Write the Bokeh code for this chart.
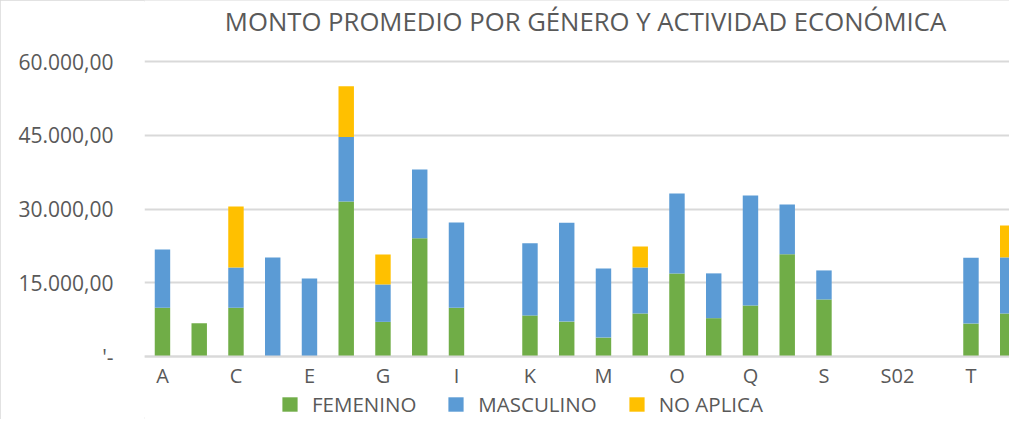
from bokeh.plotting import figure
from bokeh.models import (ColumnDataSource, Range1d, FixedTicker, Legend, LegendItem, Label)
from bokeh.embed import file_html
from bokeh.resources import INLINE

categories = ["A", "B", "C", "D", "E", "F", "G", "H", "I", "J", "K", "L", "M", "N",
              "O", "P", "Q", "R", "S", "S01", "S02", "S03", "T", "U"]
femenino = [9950, 6800, 9950, 0, 0, 31550, 7100, 24100, 9950, 0, 8400, 7150, 3900, 8800,
            16900, 7850, 10400, 20850, 11650, 0, 0, 0, 6750, 8800]
masculino = [11850, 0, 8200, 20200, 15900, 13100, 7600, 13950, 17350, 0, 14650, 20100, 14050, 9350,
             16300, 9100, 22350, 10100, 5900, 0, 0, 0, 13400, 11400]
no_aplica = [0, 0, 12400, 0, 0, 10300, 6100, 0, 0, 0, 0, 0, 0, 4270,
             0, 0, 0, 0, 0, 0, 0, 0, 0, 6500]
series = ["FEMENINO", "MASCULINO", "NO APLICA"]
colors = ["#70AD47", "#5B9BD5", "#FFC000"]
y_ticks = [0, 15000, 30000, 45000, 60000]
y_labels = ["'-", "15.000,00", "30.000,00", "45.000,00", "60.000,00"]
title_text = "MONTO PROMEDIO POR GÉNERO Y ACTIVIDAD ECONÓMICA"

FONT = "Open Sans"
TXT = "#595959"
W, H = 1009, 419

src = ColumnDataSource(dict(x=list(range(len(categories))), FEMENINO=femenino,
                            MASCULINO=masculino, **{"NO APLICA": no_aplica}))

# frame covers the whole height; value axis mapped so that 0 and 60000 sit where the reference puts them
units_per_px = 60000 / 295.3
y_top = 356.3 * units_per_px
y_bot = -(H - 356.3) * units_per_px
x_start = -0.489
x_end = x_start + (W - 144) / 36.75

p = figure(width=W, height=H, output_backend="svg", toolbar_location=None,
           x_range=Range1d(x_start, x_end), y_range=Range1d(y_bot, y_top),
           min_border_left=144, min_border_right=0, min_border_top=0, min_border_bottom=0)
p.outline_line_color = None

renderers = p.vbar_stack(series, x="x", width=0.42, color=colors, source=src, line_color=None)

p.xgrid.grid_line_color = None
p.ygrid.grid_line_color = "#D9D9D9"
p.ygrid.grid_line_width = 2
p.ygrid.ticker = FixedTicker(ticks=y_ticks)

p.yaxis.ticker = FixedTicker(ticks=y_ticks)
p.yaxis.major_label_overrides = {t: l for t, l in zip(y_ticks, y_labels)}
p.yaxis.axis_line_color = None
p.yaxis.major_tick_line_color = None
p.yaxis.minor_tick_line_color = None
p.yaxis.major_tick_out = 0
p.yaxis.major_tick_in = 0
p.yaxis.major_label_standoff = 31
p.yaxis.major_label_text_font = FONT
p.yaxis.major_label_text_font_size = "21px"
p.yaxis.major_label_text_color = TXT

x_ticks = list(range(0, len(categories), 2))
p.xaxis.fixed_location = 0
p.xaxis.ticker = FixedTicker(ticks=x_ticks)
p.xaxis.major_label_overrides = {i: categories[i] for i in x_ticks}
p.xaxis.axis_line_color = "#D9D9D9"
p.xaxis.axis_line_width = 2
p.xaxis.major_tick_line_color = None
p.xaxis.minor_tick_line_color = None
p.xaxis.major_tick_out = 0
p.xaxis.major_tick_in = 0
p.xaxis.major_label_standoff = 5
p.xaxis.major_label_text_font = FONT
p.xaxis.major_label_text_font_size = "20px"
p.xaxis.major_label_text_color = TXT

p.add_layout(Label(x=441, y=H - 20.5, x_units="screen", y_units="screen", text=title_text,
                   text_font=FONT, text_font_size="25.7px", text_color=TXT,
                   text_align="center", text_baseline="middle"))

legend = Legend(items=[LegendItem(label=s, renderers=[r]) for s, r in zip(series, renderers)],
                orientation="horizontal", location=(136, 1),
                glyph_width=19, glyph_height=18, label_standoff=13, spacing=30,
                label_text_font=FONT, label_text_font_size="20.5px", label_text_color=TXT,
                border_line_color=None, background_fill_alpha=0, padding=0, margin=0)
p.add_layout(legend)
p.styles = {"box-shadow": "inset 2px 2px 0 0 #D9D9D9, inset 0 -2px 0 0 #D9D9D9"}

open("out.html", "w").write(file_html(p, INLINE))
